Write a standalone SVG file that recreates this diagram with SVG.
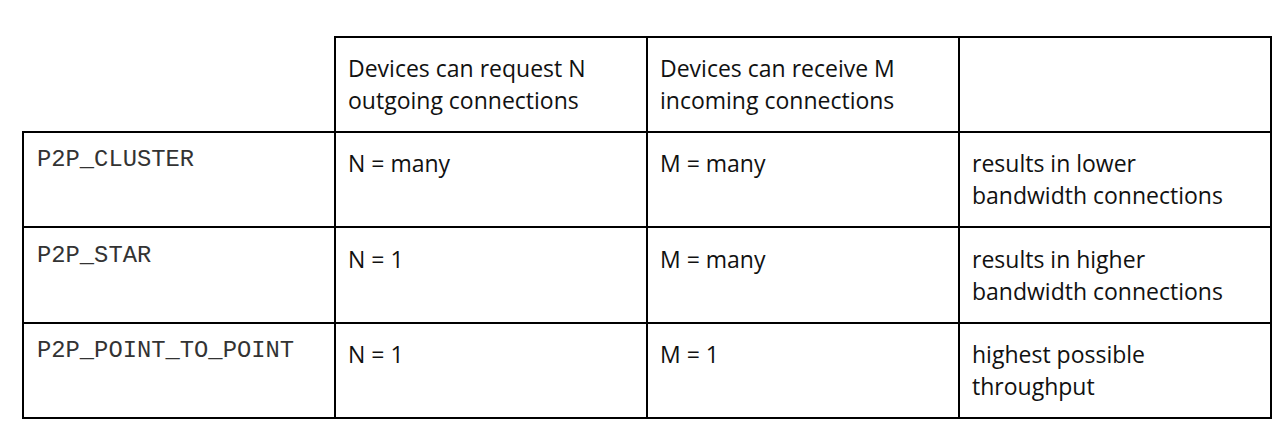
<svg xmlns="http://www.w3.org/2000/svg" width="1286" height="444" viewBox="0 0 1286 444">
<style>
.grid{stroke:#000;stroke-width:2;fill:none;stroke-linecap:square}
.s{font-family:"Open Sans","Noto Sans",Lato,"Liberation Sans",sans-serif;font-size:23px;fill:#111}
.m{font-family:"Liberation Mono","Courier New",monospace;font-size:23.8px;fill:#333}
</style>
<rect width="1286" height="444" fill="#fff"/>
<g id="grid">
<path class="grid" d="M335 37H1271M23 132H1271M23 227H1271M23 323H1271M23 418H1271M23 132V418M335 37V418M647 37V418M959 37V418M1271 37V418"/>
</g>
<g id="header">
<text class="s" x="348" y="77">Devices can request N</text>
<text class="s" x="348" y="109">outgoing connections</text>
<text class="s" x="660" y="77">Devices can receive M</text>
<text class="s" x="660" y="109">incoming connections</text>
</g>
<g id="row-cluster">
<text class="m" x="37" y="166">P2P_CLUSTER</text>
<text class="s" x="348" y="172">N = many</text>
<text class="s" x="660" y="172">M = many</text>
<text class="s" x="972" y="172">results in lower</text>
<text class="s" x="972" y="204">bandwidth connections</text>
</g>
<g id="row-star">
<text class="m" x="37" y="262">P2P_STAR</text>
<text class="s" x="348" y="268">N = 1</text>
<text class="s" x="660" y="268">M = many</text>
<text class="s" x="972" y="268">results in higher</text>
<text class="s" x="972" y="300">bandwidth connections</text>
</g>
<g id="row-p2p">
<text class="m" x="37" y="357">P2P_POINT_TO_POINT</text>
<text class="s" x="348" y="363">N = 1</text>
<text class="s" x="660" y="363">M = 1</text>
<text class="s" x="972" y="363">highest possible</text>
<text class="s" x="972" y="395">throughput</text>
</g>
</svg>
